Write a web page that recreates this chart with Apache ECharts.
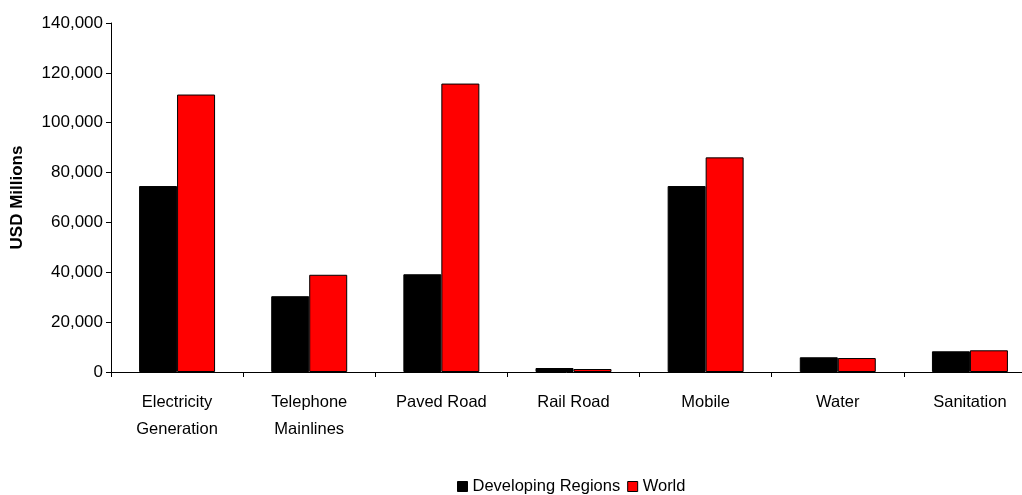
<!DOCTYPE html>
<html><head><meta charset="utf-8">
<script src="https://cdn.jsdelivr.net/npm/echarts@6/dist/echarts.min.js"></script>
<style>html,body{margin:0;padding:0;background:#fff}#c{width:1022px;height:495px}</style>
</head><body><div id="c"></div>
<script>
const categories = ['Electricity\nGeneration','Telephone\nMainlines','Paved Road','Rail Road','Mobile','Water','Sanitation'];
const developing = [74600, 30400, 39200, 1600, 74600, 5900, 8300];
const world = [111300, 39000, 115700, 1200, 86100, 5600, 8700];
const yTicks = {min: 0, max: 140000, interval: 20000};
const FONT = '"Liberation Sans",Arial,sans-serif';
const chart = echarts.init(document.getElementById('c'));
chart.setOption({
  animation: false,
  backgroundColor: '#fff',
  grid: {left: 111, width: 925, top: 23, bottom: 123, outerBoundsMode: 'none', containLabel: false},
  legend: {
    top: 473, left: 452, itemWidth: 10, itemHeight: 10, itemGap: 7,
    icon: 'rect',
    itemStyle: {borderColor: '#000', borderWidth: 1},
    textStyle: {fontFamily: FONT, fontSize: 16.5, color: '#000'},
    data: ['Developing Regions','World']
  },
  xAxis: {
    type: 'category', data: categories,
    axisLine: {lineStyle: {color: '#000', width: 1}},
    axisTick: {show: true, length: 5, lineStyle: {color: '#000'}},
    axisLabel: {fontFamily: FONT, fontSize: 16.5, color: '#000', margin: 17, lineHeight: 27, interval: 0}
  },
  yAxis: {
    type: 'value', min: yTicks.min, max: yTicks.max, interval: yTicks.interval,
    name: 'USD Millions', nameLocation: 'middle', nameGap: 85,
    nameTextStyle: {fontFamily: FONT, fontSize: 17, fontWeight: 'bold', color: '#000'},
    splitLine: {show: false},
    axisLine: {show: true, lineStyle: {color: '#000'}},
    axisTick: {show: true, length: 5, lineStyle: {color: '#000'}},
    axisLabel: {fontFamily: FONT, fontSize: 17, color: '#000', margin: 8,
      formatter: v => v.toLocaleString('en-US')}
  },
  series: [
    {name: 'Developing Regions', type: 'bar', data: developing, barGap: '0%', barCategoryGap: '42.5%',
     itemStyle: {color: '#000', borderColor: '#000', borderWidth: 1}},
    {name: 'World', type: 'bar', data: world,
     itemStyle: {color: '#ff0000', borderColor: '#000', borderWidth: 1}}
  ]
});
</script></body></html>
